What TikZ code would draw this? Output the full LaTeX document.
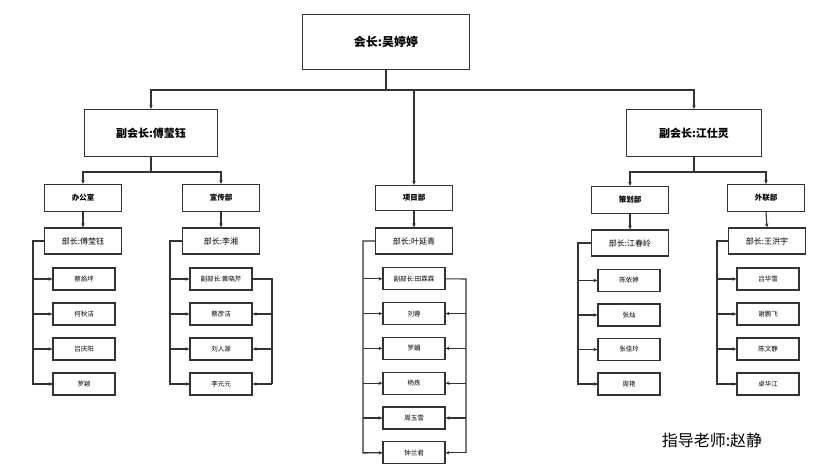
\documentclass[tikz,border=0pt]{standalone}
\usepackage{fontspec}
\setmainfont{Noto Sans CJK SC}
\usetikzlibrary{arrows.meta}
\tikzset{
  box/.style={draw=black!80, line width=1.1pt, fill=white, inner sep=0pt},
  lead/.style={box, minimum width=77pt, minimum height=26pt, font=\fontsize{8}{9}\selectfont},
  member/.style={box, minimum width=62pt, minimum height=22pt, font=\fontsize{6.5}{8}\selectfont},
  link/.style={draw=black!80, line width=1.1pt},
  arr/.style={link, -{Stealth[length=4pt,width=3.5pt]}}
}
\begin{document}
\begin{tikzpicture}[x=1pt,y=-1pt]
  \useasboundingbox (0,0) rectangle (830,470);

  % top levels
  \node[box, minimum width=167pt, minimum height=55pt, font=\fontsize{12}{14}\selectfont\bfseries] (pres) at (386,42) {会长:吴婷婷};
  \node[box, minimum width=133pt, minimum height=47pt, font=\fontsize{11}{13}\selectfont\bfseries] (vpl) at (151,133) {副会长:傅莹钰};
  \node[box, minimum width=135pt, minimum height=47pt, font=\fontsize{11}{13}\selectfont\bfseries] (vpr) at (694,133) {副会长:江仕灵};

  % departments
  \node[lead, minimum height=27pt, font=\fontsize{7.5}{9}\selectfont\bfseries] (bgs) at (83,198) {办公室};
  \node[lead, minimum height=27pt, font=\fontsize{7.5}{9}\selectfont\bfseries] (xcb) at (221,198) {宣传部};
  \node[lead, minimum height=25pt, font=\fontsize{7.5}{9}\selectfont\bfseries] (xmb) at (414,198) {项目部};
  \node[lead, minimum height=27pt, font=\fontsize{7.5}{9}\selectfont\bfseries] (chb) at (630,200) {策划部};
  \node[lead, minimum height=27pt, font=\fontsize{7.5}{9}\selectfont\bfseries] (wlb) at (766,198) {外联部};

  % heads
  \node[lead] (bgsH) at (83,241) {部长:傅莹钰};
  \node[lead] (xcbH) at (221,241) {部长:李湘};
  \node[lead] (xmbH) at (414,241) {部长:叶延青};
  \node[lead] (chbH) at (630,243) {部长:江春岭};
  \node[lead] (wlbH) at (767,241) {部长:王洪宇};

  % tree links
  \coordinate (t0) at (386,90);
  \draw[link] (pres.south) -- (t0);
  \draw[arr] (t0) -| (vpl.north);
  \draw[arr] (t0) -| (vpr.north);
  \draw[arr] (414,90) -- (xmb.north);
  \draw[link] (vpl.south) -- (151,172);
  \draw[arr] (151,172) -| (bgs.north);
  \draw[arr] (151,172) -| (xcb.north);
  \draw[link] (vpr.south) -- (694,172);
  \draw[arr] (694,172) -| (chb.north);
  \draw[arr] (694,172) -| (wlb.north);
  \foreach \d in {bgs,xcb,xmb,chb,wlb}
    \draw[arr] (\d.south) -- (\d H.north);

  % members
  \foreach \n [count=\i] in {蔡焰坪,何秋洁,吕庆阳,罗颖}
    \node[member] (bgs\i) at (84,244+35*\i) {\n};
  \foreach \n [count=\i] in {副部长:黄晓芹,蔡彦洁,刘人源,李元元}
    \node[member] (xcb\i) at (221,244+35*\i) {\n};
  \foreach \n [count=\i] in {副部长:田霖霖,刘蓉,罗媚,杨炼,周玉雪,钟兰君}
    \node[member] (xmb\i) at (414,244+34.8*\i) {\n};
  \foreach \n [count=\i] in {陈依婷,张灿,张佳玲,周艳}
    \node[member] (chb\i) at (629,246+34.5*\i) {\n};
  \foreach \n [count=\i] in {吕华雪,谢鹏飞,陈文静,卓华江}
    \node[member] (wlb\i) at (768,244+35*\i) {\n};

  % left buses
  \draw[link] (bgsH.west) -- (33,241) -- (33,384) -- (bgs4.west);
  \foreach \i in {1,2,3,4} \draw[arr] (bgs\i.west-|33,0) -- (bgs\i.west);
  \draw[link] (xcbH.west) -- (170,241) -- (170,384) -- (xcb4.west);
  \foreach \i in {1,2,3,4} \draw[arr] (xcb\i.west-|170,0) -- (xcb\i.west);
  \draw[link] (xmbH.west) -- (363,241) -- (363,453) -- (xmb6.west);
  \foreach \i in {1,...,6} \draw[arr] (xmb\i.west-|363,0) -- (xmb\i.west);
  \draw[link] (chbH.west) -- (578,243) -- (578,384) -- (chb4.west);
  \foreach \i in {1,2,3,4} \draw[arr] (chb\i.west-|578,0) -- (chb\i.west);
  \draw[link] (wlbH.west) -- (717,241) -- (717,384) -- (wlb4.west);
  \foreach \i in {1,2,3,4} \draw[arr] (wlb\i.west-|717,0) -- (wlb\i.west);

  % right buses from deputies
  \draw[link] (xcb1.east) -- (272,279) -- (272,384);
  \foreach \i in {2,3,4} \draw[arr] (xcb\i.east-|272,0) -- (xcb\i.east);
  \draw[link] (xmb1.east) -- (466,279) -- (466,453);
  \foreach \i in {2,...,6} \draw[arr] (xmb\i.east-|466,0) -- (xmb\i.east);

  % advisor
  \node[font=\fontsize{16}{18}\selectfont] (adv) at (712,440) {指导老师:赵静};
\end{tikzpicture}
\end{document}
